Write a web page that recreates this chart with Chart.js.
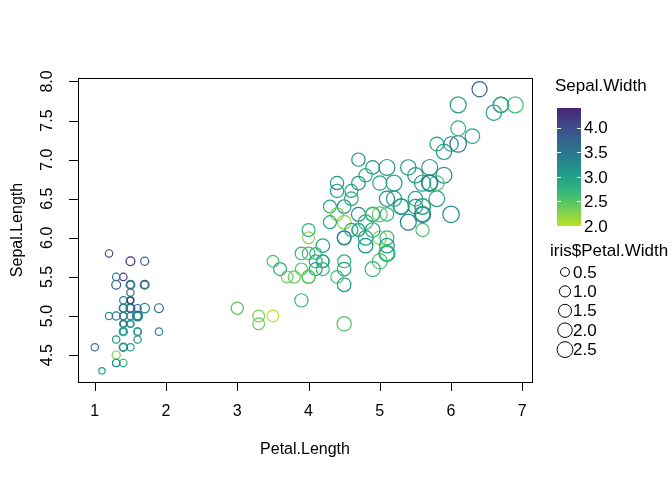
<!DOCTYPE html>
<html>
<head>
<meta charset="utf-8">
<script src="https://cdn.jsdelivr.net/npm/chart.js@4.4.0/dist/chart.umd.min.js"></script>
<style>
  html, body { margin: 0; padding: 0; background: #fff; }
</style>
</head>
<body>
<canvas id="myChart" width="672" height="480"></canvas>
<script>
// iris data
const petalLength = [
  1.4, 1.4, 1.3, 1.5, 1.4, 1.7, 1.4, 1.5, 1.4, 1.5, 1.5, 1.6, 1.4, 1.1, 1.2, 1.5, 1.3, 1.4, 1.7, 1.5,
  1.7, 1.5, 1.0, 1.7, 1.9, 1.6, 1.6, 1.5, 1.4, 1.6, 1.6, 1.5, 1.5, 1.4, 1.5, 1.2, 1.3, 1.4, 1.3, 1.5,
  1.3, 1.3, 1.3, 1.6, 1.9, 1.4, 1.6, 1.4, 1.5, 1.4,
  4.7, 4.5, 4.9, 4.0, 4.6, 4.5, 4.7, 3.3, 4.6, 3.9, 3.5, 4.2, 4.0, 4.7, 3.6, 4.4, 4.5, 4.1, 4.5, 3.9,
  4.8, 4.0, 4.9, 4.7, 4.3, 4.4, 4.8, 5.0, 4.5, 3.5, 3.8, 3.7, 3.9, 5.1, 4.5, 4.5, 4.7, 4.4, 4.1, 4.0,
  4.4, 4.6, 4.0, 3.3, 4.2, 4.2, 4.2, 4.3, 3.0, 4.1,
  6.0, 5.1, 5.9, 5.6, 5.8, 6.6, 4.5, 6.3, 5.8, 6.1, 5.1, 5.3, 5.5, 5.0, 5.1, 5.3, 5.5, 6.7, 6.9, 5.0,
  5.7, 4.9, 6.7, 4.9, 5.7, 6.0, 4.8, 4.9, 5.6, 5.8, 6.1, 6.4, 5.6, 5.1, 5.6, 6.1, 5.6, 5.5, 4.8, 5.4,
  5.6, 5.1, 5.1, 5.9, 5.7, 5.2, 5.0, 5.2, 5.4, 5.1
];
const sepalLength = [
  5.1, 4.9, 4.7, 4.6, 5.0, 5.4, 4.6, 5.0, 4.4, 4.9, 5.4, 4.8, 4.8, 4.3, 5.8, 5.7, 5.4, 5.1, 5.7, 5.1,
  5.4, 5.1, 4.6, 5.1, 4.8, 5.0, 5.0, 5.2, 5.2, 4.7, 4.8, 5.4, 5.2, 5.5, 4.9, 5.0, 5.5, 4.9, 4.4, 5.1,
  5.0, 4.5, 4.4, 5.0, 5.1, 4.8, 5.1, 4.6, 5.3, 5.0,
  7.0, 6.4, 6.9, 5.5, 6.5, 5.7, 6.3, 4.9, 6.6, 5.2, 5.0, 5.9, 6.0, 6.1, 5.6, 6.7, 5.6, 5.8, 6.2, 5.6,
  5.9, 6.1, 6.3, 6.1, 6.4, 6.6, 6.8, 6.7, 6.0, 5.7, 5.5, 5.5, 5.8, 6.0, 5.4, 6.0, 6.7, 6.3, 5.6, 5.5,
  5.5, 6.1, 5.8, 5.0, 5.6, 5.7, 5.7, 6.2, 5.1, 5.7,
  6.3, 5.8, 7.1, 6.3, 6.5, 7.6, 4.9, 7.3, 6.7, 7.2, 6.5, 6.4, 6.8, 5.7, 5.8, 6.4, 6.5, 7.7, 7.7, 6.0,
  6.9, 5.6, 7.7, 6.3, 6.7, 7.2, 6.2, 6.1, 6.4, 7.2, 7.4, 7.9, 6.4, 6.3, 6.1, 7.7, 6.3, 6.4, 6.0, 6.9,
  6.7, 6.9, 5.8, 6.8, 6.7, 6.7, 6.3, 6.5, 6.2, 5.9
];
const sepalWidth = [
  3.5, 3.0, 3.2, 3.1, 3.6, 3.9, 3.4, 3.4, 2.9, 3.1, 3.7, 3.4, 3.0, 3.0, 4.0, 4.4, 3.9, 3.5, 3.8, 3.8,
  3.4, 3.7, 3.6, 3.3, 3.4, 3.0, 3.4, 3.5, 3.4, 3.2, 3.1, 3.4, 4.1, 4.2, 3.1, 3.2, 3.5, 3.6, 3.0, 3.4,
  3.5, 2.3, 3.2, 3.5, 3.8, 3.0, 3.8, 3.2, 3.7, 3.3,
  3.2, 3.2, 3.1, 2.3, 2.8, 2.8, 3.3, 2.4, 2.9, 2.7, 2.0, 3.0, 2.2, 2.9, 2.9, 3.1, 3.0, 2.7, 2.2, 2.5,
  3.2, 2.8, 2.5, 2.8, 2.9, 3.0, 2.8, 3.0, 2.9, 2.6, 2.4, 2.4, 2.7, 2.7, 3.0, 3.4, 3.1, 2.3, 3.0, 2.5,
  2.6, 3.0, 2.6, 2.3, 2.7, 3.0, 2.9, 2.9, 2.5, 2.8,
  3.3, 2.7, 3.0, 2.9, 3.0, 3.0, 2.5, 2.9, 2.5, 3.6, 3.2, 2.7, 3.0, 2.5, 2.8, 3.2, 3.0, 3.8, 2.6, 2.2,
  3.2, 2.8, 2.8, 2.7, 3.3, 3.2, 2.8, 3.0, 2.8, 3.0, 2.8, 3.8, 2.8, 2.8, 2.6, 3.0, 3.4, 3.1, 3.0, 3.1,
  3.1, 3.1, 2.7, 3.2, 3.3, 3.0, 2.5, 3.0, 3.4, 3.0
];
const petalWidth = [
  0.2, 0.2, 0.2, 0.2, 0.2, 0.4, 0.3, 0.2, 0.2, 0.1, 0.2, 0.2, 0.1, 0.1, 0.2, 0.4, 0.4, 0.3, 0.3, 0.3,
  0.2, 0.4, 0.2, 0.5, 0.2, 0.2, 0.4, 0.2, 0.2, 0.2, 0.2, 0.4, 0.1, 0.2, 0.2, 0.2, 0.2, 0.1, 0.2, 0.2,
  0.3, 0.3, 0.2, 0.6, 0.4, 0.3, 0.2, 0.2, 0.2, 0.2,
  1.4, 1.5, 1.5, 1.3, 1.5, 1.3, 1.6, 1.0, 1.3, 1.4, 1.0, 1.5, 1.0, 1.4, 1.3, 1.4, 1.5, 1.0, 1.5, 1.1,
  1.8, 1.3, 1.5, 1.2, 1.3, 1.4, 1.4, 1.7, 1.5, 1.0, 1.1, 1.0, 1.2, 1.6, 1.5, 1.6, 1.5, 1.3, 1.3, 1.3,
  1.2, 1.4, 1.2, 1.0, 1.3, 1.2, 1.3, 1.3, 1.1, 1.3,
  2.5, 1.9, 2.1, 1.8, 2.2, 2.1, 1.7, 1.8, 1.8, 2.5, 2.0, 1.9, 2.1, 2.0, 2.4, 2.3, 1.8, 2.2, 2.3, 1.5,
  2.3, 2.0, 2.0, 1.8, 2.1, 1.8, 1.8, 1.8, 2.1, 1.6, 1.9, 2.0, 2.2, 1.5, 1.4, 2.3, 2.4, 1.8, 1.8, 2.1,
  2.4, 2.3, 1.9, 2.3, 2.5, 2.3, 1.9, 2.0, 2.3, 1.8
];

const xTicks = [1, 2, 3, 4, 5, 6, 7];
const yTicks = [4.5, 5.0, 5.5, 6.0, 6.5, 7.0, 7.5, 8.0];
const colorTicks = [2.0, 2.5, 3.0, 3.5, 4.0];
const sizeTicks = [0.5, 1.0, 1.5, 2.0, 2.5];

const FONT = '"Liberation Sans", Arial, sans-serif';

// viridis stops
const viridis = ["#440154", "#482878", "#3E4A89", "#31688E", "#26828E",
                 "#1F9E89", "#35B779", "#6DCD59", "#B4DE2C", "#FDE725"];
function hex2rgb(h) {
  return [parseInt(h.slice(1, 3), 16), parseInt(h.slice(3, 5), 16), parseInt(h.slice(5, 7), 16)];
}
function viridisAt(t) {
  t = Math.max(0, Math.min(1, t)) * (viridis.length - 1);
  let i = Math.min(Math.floor(t), viridis.length - 2);
  let f = t - i;
  let a = hex2rgb(viridis[i]), b = hex2rgb(viridis[i + 1]);
  let c = a.map((v, k) => Math.round(v + (b[k] - v) * f));
  return "rgb(" + c.join(",") + ")";
}

const swMin = Math.min(...sepalWidth);
const swMax = Math.max(...sepalWidth);
// reversed, trimmed viridis
function swColor(v) {
  return viridisAt(0.9 - 0.8 * (v - swMin) / (swMax - swMin));
}
function pwRadius(w) {
  return 1.9 + 4 * Math.sqrt(w);
}

const points = petalLength.map((x, i) => ({ x: x, y: sepalLength[i] }));

// R style axes, box and legends
const rPlot = {
  id: "rPlot",
  afterDraw(chart) {
    const ctx = chart.ctx;
    const a = chart.chartArea;
    const xs = chart.scales.x, ys = chart.scales.y;
    ctx.save();
    ctx.strokeStyle = "#000";
    ctx.fillStyle = "#000";
    ctx.lineWidth = 1;

    // box
    ctx.strokeRect(Math.round(a.left) + 0.5, Math.round(a.top) + 0.5,
                   Math.round(a.right - a.left), Math.round(a.bottom - a.top));

    ctx.font = "16px " + FONT;

    // x axis
    ctx.textAlign = "center";
    ctx.textBaseline = "middle";
    ctx.beginPath();
    xTicks.forEach(v => {
      let px = Math.round(xs.getPixelForValue(v)) + 0.5;
      ctx.moveTo(px, a.bottom);
      ctx.lineTo(px, a.bottom + 9);
    });
    ctx.stroke();
    xTicks.forEach(v => ctx.fillText(String(v), xs.getPixelForValue(v), a.bottom + 30));
    ctx.fillText("Petal.Length", (a.left + a.right) / 2, a.bottom + 68);

    // y axis
    ctx.beginPath();
    yTicks.forEach(v => {
      let py = Math.round(ys.getPixelForValue(v)) + 0.5;
      ctx.moveTo(a.left, py);
      ctx.lineTo(a.left - 9, py);
    });
    ctx.stroke();
    yTicks.forEach(v => {
      ctx.save();
      ctx.translate(a.left - 30, ys.getPixelForValue(v));
      ctx.rotate(-Math.PI / 2);
      ctx.fillText(v.toFixed(1), 0, 0);
      ctx.restore();
    });
    ctx.save();
    ctx.translate(a.left - 60, (a.top + a.bottom) / 2);
    ctx.rotate(-Math.PI / 2);
    ctx.fillText("Sepal.Length", 0, 0);
    ctx.restore();

    // colour bar legend
    ctx.font = "17px " + FONT;
    const bx = 557, bw = 24, bTop = 108, bBot = 226;
    ctx.textAlign = "left";
    ctx.fillText("Sepal.Width", 555, 86);
    for (let py = bTop; py < bBot; py++) {
      let v = swMin + (bBot - py - 0.5) / (bBot - bTop) * (swMax - swMin);
      ctx.fillStyle = swColor(v);
      ctx.fillRect(bx, py, bw, 1);
    }
    ctx.strokeStyle = "#fff";
    ctx.beginPath();
    colorTicks.forEach(v => {
      if (v === swMin) return;
      let py = Math.round(bBot - (v - swMin) / (swMax - swMin) * (bBot - bTop)) + 0.5;
      ctx.moveTo(bx, py); ctx.lineTo(bx + 4, py);
      ctx.moveTo(bx + bw - 4, py); ctx.lineTo(bx + bw, py);
    });
    ctx.stroke();
    ctx.fillStyle = "#000";
    colorTicks.forEach(v => {
      let py = bBot - (v - swMin) / (swMax - swMin) * (bBot - bTop);
      ctx.fillText(v.toFixed(1), bx + bw + 3, py + 1);
    });

    // size legend
    ctx.fillText("iris$Petal.Width", 550, 251);
    ctx.strokeStyle = "#000";
    sizeTicks.forEach((w, i) => {
      let cy = 272 + i * 19.4;
      ctx.beginPath();
      ctx.arc(565, cy, pwRadius(w) - 0.3, 0, Math.PI * 2);
      ctx.stroke();
      ctx.fillText(w.toFixed(1), 573, cy + 1);
    });

    ctx.restore();
  }
};

new Chart(document.getElementById("myChart"), {
  type: "scatter",
  data: {
    datasets: [{
      data: points,
      backgroundColor: "rgba(0,0,0,0)",
      borderColor: sepalWidth.map(swColor),
      borderWidth: 1.2,
      pointRadius: petalWidth.map(pwRadius),
      pointHoverRadius: petalWidth.map(pwRadius)
    }]
  },
  options: {
    responsive: false,
    animation: false,
    devicePixelRatio: 1,
    layout: { padding: { left: 0, right: 140, top: 78, bottom: 0 } },
    plugins: { legend: { display: false }, tooltip: { enabled: false } },
    scales: {
      x: {
        type: "linear",
        min: 0.764,
        max: 7.136,
        grid: { display: false },
        border: { display: false },
        ticks: { display: false },
        afterFit: s => { s.height = 98; }
      },
      y: {
        type: "linear",
        min: 4.156,
        max: 8.044,
        grid: { display: false },
        border: { display: false },
        ticks: { display: false },
        afterFit: s => { s.width = 78; }
      }
    }
  },
  plugins: [rPlot]
});
</script>
</body>
</html>
